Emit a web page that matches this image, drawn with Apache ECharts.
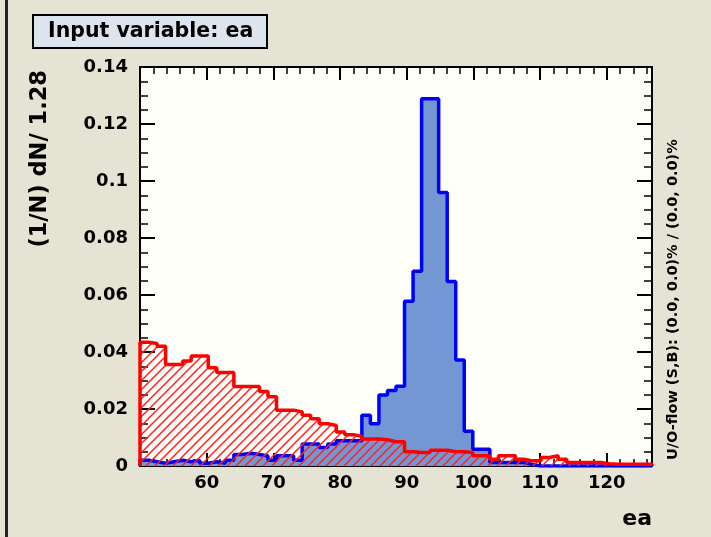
<!DOCTYPE html>
<html>
<head>
<meta charset="utf-8">
<script src="https://cdn.jsdelivr.net/npm/echarts@6/dist/echarts.min.js"></script>
<style>
  html, body { margin: 0; padding: 0; background: #e5e3d3; }
  #chart { width: 711px; height: 537px; }
</style>
</head>
<body>
<div id="chart"></div>
<script>
// histogram binning: 60 bins of width 1.28 starting at 50
const xMin = 50
const binWidth = 1.28

// signal (blue), normalised per bin
const signal = [
  0.002, 0.0015, 0.001, 0.0015, 0.002, 0.0015, 0.002, 0.001, 0.0015, 0.001,
  0.002, 0.004, 0.0045, 0.004, 0.0035, 0.002, 0.0036, 0.0036, 0.002, 0.0077,
  0.0077, 0.0065, 0.0077, 0.0089, 0.0089, 0.0089, 0.0178, 0.0148, 0.0249, 0.0265,
  0.028, 0.0578, 0.0683, 0.1289, 0.1289, 0.096, 0.0647, 0.0372, 0.0122, 0.0059,
  0.0059, 0.0012, 0.0012, 0.0012, 0.0012, 0.0005, 0, 0, 0, 0,
  0, 0, 0, 0, 0, 0, 0, 0, 0, 0,
]

// background (red, hatched)
const background = [
  0.0434, 0.043, 0.042, 0.0356, 0.0356, 0.0368, 0.0386, 0.0386, 0.0345, 0.0328,
  0.0328, 0.0279, 0.0279, 0.0279, 0.0261, 0.0243, 0.0196, 0.0196, 0.019, 0.0178,
  0.0166, 0.0148, 0.0142, 0.0119, 0.011, 0.0104, 0.0095, 0.0095, 0.0092, 0.0085,
  0.0085, 0.005, 0.0047, 0.0047, 0.0055, 0.0055, 0.005, 0.005, 0.0047, 0.0036,
  0.0036, 0.0024, 0.0036, 0.0036, 0.0024, 0.0018, 0.0018, 0.003, 0.0036, 0.0024,
  0.0012, 0.0012, 0.0012, 0.0012, 0.0008, 0.0006, 0.0006, 0.0006, 0.0006, 0.0006,
]

const yTicks = [0, 0.02, 0.04, 0.06, 0.08, 0.1, 0.12, 0.14]

// outline of a histogram: up at the first edge, steps, down at the last edge
function histPoints(values) {
  const pts = [[xMin, 0]]
  values.forEach((v, i) => pts.push([xMin + i * binWidth, v]))
  const xEnd = xMin + values.length * binWidth
  pts.push([xEnd, values[values.length - 1]])
  pts.push([xEnd, 0])
  return pts
}

function hatchPattern() {
  const s = 9
  const c = document.createElement('canvas')
  c.width = s
  c.height = s
  const g = c.getContext('2d')
  g.strokeStyle = '#ff2020'
  g.lineWidth = 1.5
  g.beginPath()
  g.moveTo(0, s); g.lineTo(s, 0)
  g.moveTo(-2, 2); g.lineTo(2, -2)
  g.moveTo(s - 2, s + 2); g.lineTo(s + 2, s - 2)
  g.stroke()
  return c
}

const font = 'DejaVu Sans'
const xEnd = xMin + signal.length * binWidth

const tickStyle = { color: '#000', width: 2 }
const minorStyle = { color: '#000', width: 1.5 }

function xAxisDef(pos, labels) {
  return {
    type: 'value', position: pos, min: xMin, max: xEnd, interval: 10,
    axisLine: { show: true, onZero: false, lineStyle: { color: '#000', width: 2 } },
    axisTick: { show: true, inside: true, length: 13, lineStyle: tickStyle },
    minorTick: { show: true, splitNumber: 5, length: 7, lineStyle: minorStyle },
    axisLabel: {
      show: labels, showMinLabel: false, showMaxLabel: false, margin: 8,
      color: '#000', fontFamily: font, fontWeight: 'bold', fontSize: 18,
    },
    splitLine: { show: false },
  }
}

function yAxisDef(pos, labels) {
  return {
    type: 'value', position: pos, min: 0, max: 0.14, interval: 0.02,
    axisLine: { show: true, onZero: false, lineStyle: { color: '#000', width: 2 } },
    axisTick: { show: true, inside: true, length: 15, lineStyle: tickStyle },
    minorTick: { show: true, splitNumber: 4, length: 8, lineStyle: minorStyle },
    axisLabel: {
      show: labels, margin: 12, color: '#000', fontFamily: font,
      fontWeight: 'bold', fontSize: 18,
      formatter: v => String(yTicks.find(t => Math.abs(t - v) < 1e-9) ?? v),
    },
    splitLine: { show: false },
  }
}

const chart = echarts.init(document.getElementById('chart'))

const option = {
  animation: false,
  backgroundColor: '#e5e3d3',
  grid: {
    left: 140, right: 59, top: 67, bottom: 71,
    show: true, backgroundColor: '#fffff9', borderWidth: 0,
  },
  xAxis: [xAxisDef('bottom', true), xAxisDef('top', false)],
  yAxis: [yAxisDef('left', true), yAxisDef('right', false)],
  series: [
    {
      name: 'Signal', type: 'line', step: 'end', data: histPoints(signal),
      showSymbol: false, silent: true,
      lineStyle: { color: '#0000ff', width: 3.5 },
      areaStyle: { color: '#7496d2', opacity: 1 },
      z: 2,
    },
    {
      name: 'Background', type: 'line', step: 'end', data: histPoints(background),
      showSymbol: false, silent: true,
      lineStyle: { color: '#ff0000', width: 3.5 },
      areaStyle: { color: { image: hatchPattern(), repeat: 'repeat' }, opacity: 1 },
      z: 3,
    },
  ],
  graphic: [
    { type: 'rect', shape: { x: 5, y: 0, width: 3, height: 537 }, style: { fill: '#222' } },
    {
      type: 'rect', shape: { x: 33, y: 15, width: 234, height: 33 },
      style: { fill: '#dce4ee', stroke: '#000', lineWidth: 2 },
    },
    {
      type: 'text', x: 48, y: 32,
      style: {
        text: 'Input variable: ea', fill: '#000', font: 'bold 20.5px "DejaVu Sans"',
        align: 'left', verticalAlign: 'middle',
      },
    },
    {
      type: 'text', x: 40, y: 70, rotation: Math.PI / 2,
      style: {
        text: '(1/N) dN/ 1.28', fill: '#000', font: 'bold 22.5px "DejaVu Sans"',
        align: 'right', verticalAlign: 'middle',
      },
    },
    {
      type: 'text', x: 652, y: 519,
      style: {
        text: 'ea', fill: '#000', font: 'bold 22px "DejaVu Sans"',
        align: 'right', verticalAlign: 'middle',
      },
    },
    {
      type: 'text', x: 673, y: 460, rotation: Math.PI / 2,
      style: {
        text: 'U/O-flow (S,B): (0.0, 0.0)% / (0.0, 0.0)%', fill: '#000',
        font: 'bold 14.5px "DejaVu Sans"', align: 'left', verticalAlign: 'middle',
      },
    },
  ],
}

chart.setOption(option)
</script>
</body>
</html>
